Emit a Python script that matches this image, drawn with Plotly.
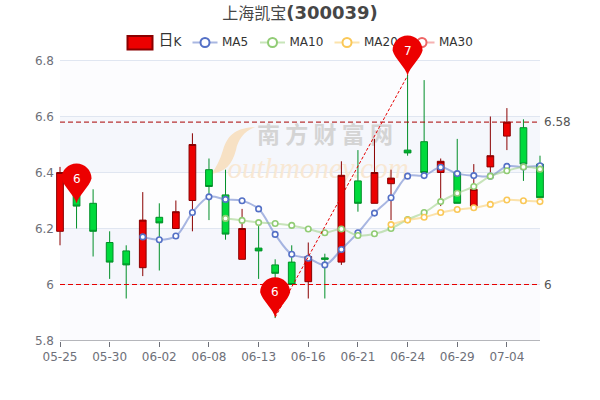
import plotly.graph_objects as go

dates = ["05-25","05-26","05-27","05-30","05-31","06-01","06-02","06-06","06-07","06-08",
         "06-09","06-10","06-13","06-14","06-15","06-16","06-17","06-20","06-21","06-22",
         "06-23","06-24","06-27","06-28","06-29","06-30","07-01","07-04","07-05","07-06"]
opens  = [6.19,6.33,6.29,6.15,6.12,6.06,6.24,6.20,6.30,6.41,6.32,6.09,6.13,6.07,6.08,6.01,6.095,6.08,6.37,6.29,6.36,6.48,6.51,6.40,6.40,6.28,6.42,6.53,6.56,6.43]
closes = [6.40,6.28,6.19,6.08,6.07,6.23,6.22,6.26,6.50,6.35,6.18,6.20,6.12,6.04,6.00,6.10,6.09,6.39,6.29,6.40,6.38,6.47,6.40,6.44,6.29,6.34,6.46,6.58,6.43,6.31]
highs  = [6.42,6.38,6.34,6.19,6.14,6.33,6.29,6.30,6.54,6.45,6.41,6.27,6.23,6.09,6.14,6.15,6.11,6.44,6.48,6.52,6.41,6.75,6.73,6.45,6.52,6.43,6.60,6.63,6.59,6.46]
lows   = [6.14,6.20,6.10,6.02,5.95,6.03,6.05,6.20,6.19,6.23,6.16,6.09,6.02,5.88,6.00,5.95,5.95,6.07,6.26,6.29,6.23,6.46,6.40,6.28,6.29,6.28,6.40,6.48,6.37,6.30]

ma5  = [None]*5 + [6.170,6.160,6.173,6.257,6.313,6.304,6.299,6.270,6.179,6.108,6.094,6.070,6.125,6.185,6.255,6.310,6.387,6.389,6.419,6.396,6.389,6.387,6.422,6.420,6.424]
ma10 = [None]*10 + [6.236,6.229,6.221,6.218,6.211,6.198,6.185,6.198,6.175,6.181,6.200,6.232,6.257,6.296,6.326,6.350,6.387,6.406,6.420,6.412]
ma20 = [None]*20 + [6.214,6.230,6.240,6.257,6.268,6.274,6.286,6.302,6.299,6.296]
ma30 = [None]*30

ref_high = 6.58
ref_low = 6
pin_dates = ["05-26","06-14","06-24"]
pin_values = [6.289,5.883,6.746]
pin_labels = ["6","6","7"]

y_ticks = [5.8,6.0,6.2,6.4,6.6,6.8]
band_colors = ["#fbfbfe","#f5f6fc","#fdfdfe","#f5f7fc","#fcfcfe"]
grid_values = [6.0,6.2,6.4,6.6,6.8]

ma_names = ["MA5","MA10","MA20","MA30"]
ma_colors = ["#5470c6","#91cc75","#fac858","#ee6666"]
ma_line_colors = ["rgba(84,112,198,0.5)","rgba(145,204,117,0.5)","rgba(250,200,88,0.5)","rgba(238,102,102,0.5)"]
ma_series = [ma5,ma10,ma20,ma30]

# legend layout, in page pixels
legend_cx = [205,272.5,347,422]
legend_y = 42.5

# plot frame in page pixels: value v sits at page row frame_y(v)
def frame_y(v):
    return 340.5 - (v - y_ticks[0]) * 280

FONT = "DejaVu Sans, Noto Sans CJK SC, sans-serif"
fig = go.Figure()

# --- full-page layer in page pixels (axes x/y): watermark + legend ---
fig.add_trace(go.Scatter(x=[325], y=[137], mode="text", text=["南 方 财 富 网"],
    textfont=dict(size=23, color="#d4d4d4", family="Noto Sans CJK SC", weight="bold"), showlegend=False, hoverinfo="skip", xaxis="x", yaxis="y"))
fig.add_trace(go.Scatter(x=[318], y=[171], mode="text", text=["outhmoney.com"],
    textfont=dict(size=29, color="#f8e8d4", family="Liberation Serif", style="italic"), showlegend=False, hoverinfo="skip", xaxis="x", yaxis="y"))

for name, cx, col, lcol in zip(ma_names, legend_cx, ma_colors, ma_line_colors):
    fig.add_trace(go.Scatter(x=[cx-12.5,cx,cx+12.5], y=[legend_y]*3, mode="lines",
        line=dict(color=lcol, width=2), showlegend=False, hoverinfo="skip", xaxis="x", yaxis="y"))
    fig.add_trace(go.Scatter(x=[cx], y=[legend_y], mode="markers", 
        marker=dict(size=9, color="white", line=dict(color=col, width=2)),
        showlegend=False, hoverinfo="skip", xaxis="x", yaxis="y"))
    fig.add_trace(go.Scatter(x=[cx+17], y=[legend_y], mode="text", text=[name],
        textposition="middle right", textfont=dict(size=12, color="#333333", family=FONT),
        showlegend=False, hoverinfo="skip", xaxis="x", yaxis="y"))
fig.add_trace(go.Scatter(x=[158.5], y=[legend_y-1], mode="text", text=["日"],
    textposition="middle right", textfont=dict(size=15, color="#333333", family="Noto Sans CJK SC"),
    showlegend=False, hoverinfo="skip", xaxis="x", yaxis="y"))
fig.add_trace(go.Scatter(x=[173.5], y=[legend_y], mode="text", text=["K"],
    textposition="middle right", textfont=dict(size=12, color="#333333", family=FONT),
    showlegend=False, hoverinfo="skip", xaxis="x", yaxis="y"))

# --- data layer (axes x2/y2) ---
fig.add_trace(go.Candlestick(x=dates, open=opens, high=highs, low=lows, close=closes,
    increasing=dict(line=dict(color="#8A0000", width=1), fillcolor="#EC0000"),
    decreasing=dict(line=dict(color="#008F28", width=1), fillcolor="#00DA3C"),
    whiskerwidth=0, showlegend=False, xaxis="x2", yaxis="y2"))

for name, s, col, lcol in zip(ma_names, ma_series, ma_colors, ma_line_colors):
    fig.add_trace(go.Scatter(x=dates, y=s, name=name, mode="lines+markers", showlegend=False,
        line=dict(color=lcol, width=2, shape="spline", smoothing=1),
        marker=dict(size=5.5, color="white", line=dict(color=col, width=1.6)),
        xaxis="x2", yaxis="y2"))

fig.add_trace(go.Scatter(x=[dates[0],dates[-1]], y=[ref_low,ref_low], mode="lines", showlegend=False, hoverinfo="skip",
    line=dict(color="#e60000", width=1, dash="5px,3px"), xaxis="x2", yaxis="y2"))
fig.add_trace(go.Scatter(x=[dates[0],dates[-1]], y=[ref_high,ref_high], mode="lines", showlegend=False, hoverinfo="skip",
    line=dict(color="#a80000", width=1, dash="5px,3px"), xaxis="x2", yaxis="y2"))
fig.add_trace(go.Scatter(x=[pin_dates[1],pin_dates[2]], y=[pin_values[1],pin_values[2]], mode="lines", showlegend=False, hoverinfo="skip",
    line=dict(color="#e60000", width=1, dash="3px,2px"), xaxis="x2", yaxis="y2"))

shapes = []
# background bands and grid live on the page layer so the watermark is drawn over them
for lo, hi, col in zip(y_ticks[:-1], y_ticks[1:], band_colors):
    shapes.append(dict(type="rect", xref="x", yref="y", x0=60, x1=540, y0=frame_y(lo), y1=frame_y(hi),
                       fillcolor=col, line_width=0, layer="below"))
for g in grid_values:
    shapes.append(dict(type="line", xref="x", yref="y", x0=60, x1=540, y0=frame_y(g), y1=frame_y(g),
                       line=dict(color="#e0e6f1", width=1), layer="below"))
shapes.append(dict(type="line", xref="x2", yref="y2", x0=dates[0], x1=dates[-1], y0=y_ticks[0], y1=y_ticks[0],
                   line=dict(color="#6E7079", width=1), layer="above"))
# watermark swoosh
shapes.append(dict(type="path", xref="x", yref="y", layer="below", line_width=0, fillcolor="#f7e1c4",
    path="M255,127 C238,128 228,133 223,150 C220,160 216,168 211,174 C225,172 232,165 236,150 C238,140 243,132 255,127 Z"))
# legend candle icon
shapes.append(dict(type="rect", xref="x", yref="y", x0=127.5, x1=152.5, y0=36, y1=49.5, layer="above",
    fillcolor="#EC0000", line=dict(color="#8A0000", width=2)))
# pins
R = 15; C = 25; K = 8.3
pin_path = (f"M0,0 C-2,8 -13,{C-8} -{R},{C} C-{R},{C+K} -{K},{C+R} 0,{C+R} "
            f"C{K},{C+R} {R},{C+K} {R},{C} C13,{C-8} 2,8 0,0 Z")
for d, v in zip(pin_dates, pin_values):
    shapes.append(dict(type="path", xref="x2", yref="y2", xsizemode="pixel", ysizemode="pixel",
        xanchor=d, yanchor=v, path=pin_path, fillcolor="#EC0000", line_width=0, layer="above"))

ann = []
for d, v, t in zip(pin_dates, pin_values, pin_labels):
    ann.append(dict(x=d, y=v, xref="x2", yref="y2", text=t, showarrow=False, yshift=25,
                    font=dict(size=12, color="white", family=FONT)))
for v, t in ((ref_high,"6.58"),(ref_low,"6")):
    ann.append(dict(x=dates[-1], y=v, xref="x2", yref="y2", text=t, showarrow=False, xanchor="left", xshift=2,
                    font=dict(size=12, color="#555555", family=FONT)))

fig.update_layout(
    width=600, height=400, margin=dict(l=0, r=0, t=0, b=0),
    paper_bgcolor="white", plot_bgcolor="rgba(0,0,0,0)", showlegend=False, boxgap=0.42,
    title=dict(text='<span style="font-size:16px">上海凯宝</span><b>(300039)</b>', x=0.5, xanchor="center",
               y=0.968, yanchor="middle", font=dict(size=18, color="#464646", family=FONT)),
    xaxis=dict(domain=[0,1], range=[0,600], visible=False, fixedrange=True, automargin=False),
    yaxis=dict(domain=[0,1], range=[400,0], visible=False, fixedrange=True, automargin=False),
    xaxis2=dict(domain=[55/600,545/600], type="category", categoryorder="array", categoryarray=dates, anchor="y2", side="bottom",
                range=[-0.302,29.302], tickmode="linear", tick0=0, dtick=3, ticks="outside", ticklen=5, automargin=False,
                tickcolor="#6E7079", showgrid=False, zeroline=False, showline=False, rangeslider=dict(visible=False),
                tickfont=dict(size=12, color="#6E7079", family=FONT), fixedrange=True),
    # the axis reaches up to the top of the page so that the pin markers are not clipped
    yaxis2=dict(domain=[59.5/400,1], range=[5.8,5.8+340.5/280], anchor="x2", side="left", tickmode="array", tickvals=y_ticks,
                ticktext=["5.8","6","6.2","6.4","6.6","6.8"], ticks="", automargin=False,
                showgrid=False, zeroline=False, showline=False,
                tickfont=dict(size=12, color="#6E7079", family=FONT), fixedrange=True),
    shapes=shapes, annotations=ann,
)
fig.write_html("out.html", config=dict(displayModeBar=False),
               post_script="document.body.style.margin='0';")
